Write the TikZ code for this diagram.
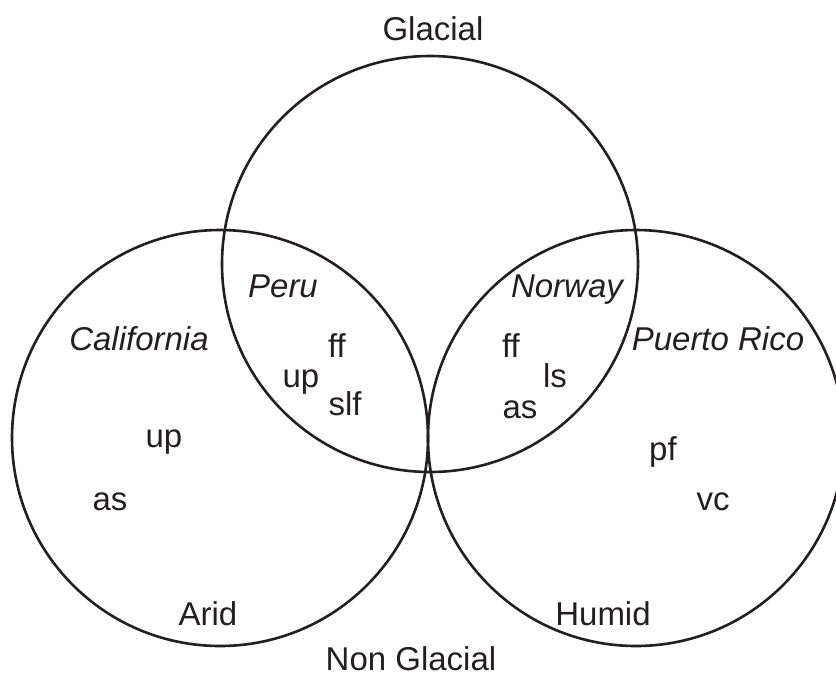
\documentclass[tikz,border=0pt]{standalone}
\usepackage{fontspec}
\setmainfont{Liberation Sans}
\definecolor{inkline}{HTML}{231F20}

\begin{document}
\begin{tikzpicture}[x=0.5pt, y=-0.5pt,
        lbl/.style={anchor=base, inner sep=0pt, text=inkline, font=\fontsize{16.5}{20}\selectfont},
        place/.style={lbl, font=\fontsize{16.5}{20}\selectfont\itshape},
        ring/.style={draw=inkline, line width=1.3pt}]

            \useasboundingbox (0,0) rectangle (836,676);

            % the three sets
            \draw[ring] (430,264) circle[radius=104pt];
            \draw[ring] (220,438) circle[radius=104pt];
            \draw[ring] (636,438) circle[radius=104pt];

            % set names
            \node[lbl] (glacial) at (433,40) {Glacial};
            \node[lbl] (nonglacial) at (411,670) {Non Glacial};
            \node[lbl] (arid) at (208,625) {Arid};
            \node[lbl] (humid) at (603,625) {Humid};

            % regions
            \node[place] (california) at (139,350) {California};
            \node[place] (peru) at (283,297) {Peru};
            \node[place] (norway) at (567,297) {Norway};
            \node[place] (puertorico) at (718,350) {Puerto Rico};

            % California
            \node[lbl] (calup) at (164,447) {up};
            \node[lbl] (calas) at (110,510) {as};

            % Peru
            \node[lbl] (peruff) at (337,357) {ff};
            \node[lbl] (peruup) at (301,387) {up};
            \node[lbl] (peruslf) at (345,415) {slf};

            % Norway
            \node[lbl] (norff) at (511,357) {ff};
            \node[lbl] (norls) at (555,387) {ls};
            \node[lbl] (noras) at (520,418) {as};

            % Puerto Rico
            \node[lbl] (prpf) at (663,460) {pf};
            \node[lbl] (prvc) at (713,510) {vc};

        \end{tikzpicture}
\end{document}
